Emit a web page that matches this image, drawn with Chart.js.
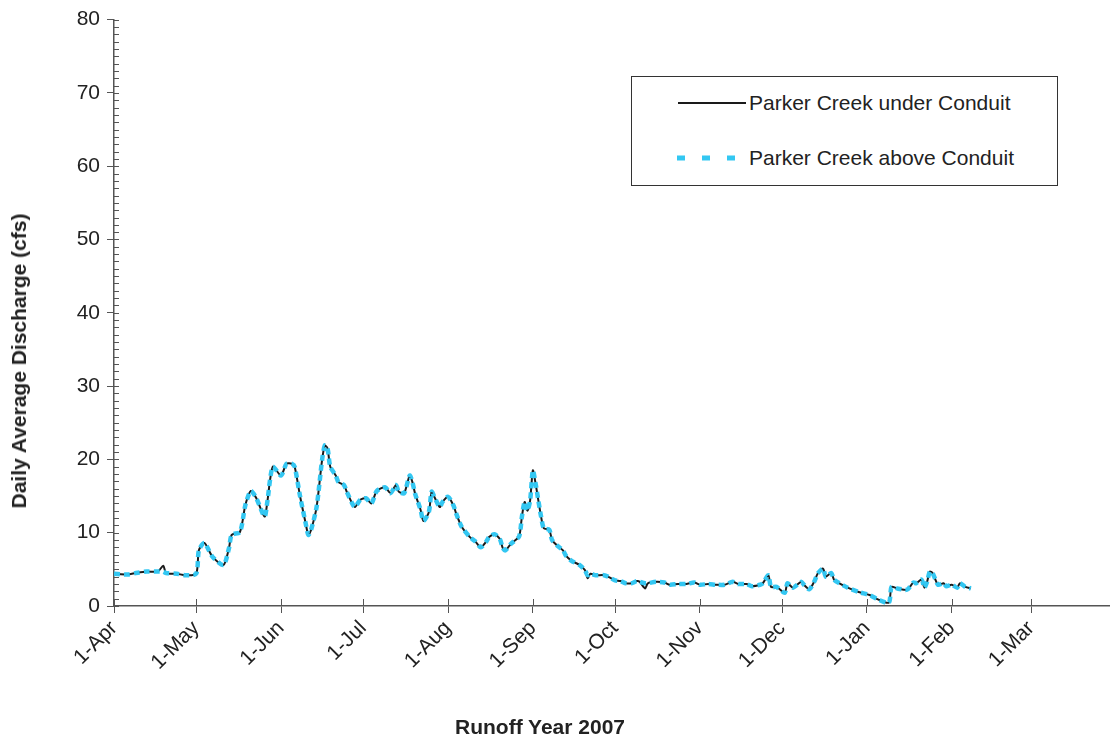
<!DOCTYPE html>
<html>
<head>
<meta charset="utf-8">
<script src="https://cdn.jsdelivr.net/npm/chart.js@4.4.1/dist/chart.umd.min.js"></script>
<style>
html,body{margin:0;padding:0;background:#fff;overflow:hidden;width:1110px;height:740px;}
#wrap{position:relative;width:1110px;height:740px;overflow:hidden;font-family:"Liberation Sans",Arial,sans-serif;color:#222;}
#c{position:absolute;left:0;top:0;}
#ytitle{position:absolute;left:19px;top:361px;transform:translate(-50%,-50%) rotate(-90deg);white-space:nowrap;font-weight:bold;font-size:21px;}
#xtitle{position:absolute;left:540px;top:727px;transform:translate(-50%,-50%);white-space:nowrap;font-weight:bold;font-size:21px;}
#legend{position:absolute;left:631px;top:76px;width:425px;height:108px;border:1px solid #333;background:#fff;font-size:21px;}
#legend svg{position:absolute;left:45px;}
#legend span{position:absolute;left:117px;white-space:nowrap;line-height:24px;}
</style>
</head>
<body>
<div id="wrap">
<canvas id="c" width="1116" height="740"></canvas>
<div id="ytitle">Daily Average Discharge (cfs)</div>
<div id="xtitle">Runoff Year 2007</div>
<div id="legend">
  <svg style="top:16px" width="70" height="20"><line x1="1" y1="10" x2="69" y2="10" stroke="#1a1a1a" stroke-width="2"/></svg>
  <span style="top:14px">Parker Creek under Conduit</span>
  <svg style="top:71px" width="70" height="20"><line x1="0" y1="10" x2="60" y2="10" stroke="#33c7f2" stroke-width="5" stroke-dasharray="8,17"/></svg>
  <span style="top:69px">Parker Creek above Conduit</span>
</div>
</div>
<script>
// Day offsets from 1-Apr-2007
const days = [
  0,5,8,12,16,18,19,23,26,30,
  31,33,36,40,42,43,46,48,50,52,
  55,56,58,61,63,65,66,68,70,71,
  72,74,76,77,78,79,81,82,84,85,
  87,88,90,92,94,96,99,101,103,104,
  106,108,109,110,112,113,115,116,117,119,
  120,122,124,125,127,130,132,134,136,137,
  139,141,142,143,145,146,148,149,150,151,
  152,153,154,155,156,157,159,160,162,164,
  165,167,170,172,173,174,176,179,181,183,
  185,187,189,191,192,194,195,198,201,203,
  206,209,212,214,217,220,223,226,228,231,
  233,236,237,239,240,242,245,246,248,251,
  252,254,256,257,259,260,262,263,265,268,
  272,276,279,283,284,286,289,290,292,293,
  295,296,297,298,299,301,303,304,306,308,
  309,311,313
];
// Parker Creek under Conduit (cfs)
const underConduit = [
  4.4,4.3,4.5,4.7,4.7,5.5,4.5,4.4,4.2,4.4,
  7.6,8.6,6.7,5.6,7.9,9.7,10.1,13.8,15.7,14.7,
  12.2,14.2,19.0,17.8,19.4,19.4,19.0,14.9,11.3,9.7,
  10.4,13.5,19.9,21.9,21.5,19.0,17.8,16.9,16.5,15.6,
  14.0,13.5,14.5,14.7,14.0,15.7,16.2,15.4,16.5,15.6,
  15.4,17.8,16.9,15.3,13.1,11.6,12.8,15.6,14.9,13.5,
  14.2,14.9,13.7,12.6,10.8,9.4,8.8,8.0,8.8,9.4,
  9.8,9.1,7.9,7.6,8.5,8.8,9.5,12.2,14.2,13.0,
  14.4,18.5,16.7,14.4,12.2,10.6,10.4,9.0,8.2,7.6,
  6.9,6.2,5.6,4.9,3.8,4.4,4.2,4.2,3.9,3.5,
  3.4,3.1,3.1,3.4,3.3,2.4,3.1,3.3,3.2,2.9,
  3.0,3.0,3.2,2.9,3.0,2.9,2.9,3.3,3.0,3.0,
  2.7,2.9,3.1,4.2,2.6,2.6,1.8,3.1,2.5,3.3,
  2.9,2.3,3.5,4.4,5.1,4.0,4.5,3.6,3.1,2.5,
  1.9,1.5,0.9,0.45,2.6,2.4,2.2,2.3,3.2,3.1,
  3.6,2.5,3.3,4.7,4.5,2.9,3.1,2.7,2.9,2.5,
  3.1,2.6,2.4
];
// Parker Creek above Conduit (cfs)
const aboveConduit = [
  4.4,4.3,4.5,4.7,4.7,4.7,4.5,4.4,4.2,4.4,
  7.6,8.6,6.7,5.6,7.9,9.7,10.1,13.8,15.7,14.7,
  12.2,14.2,19.0,17.8,19.4,19.4,19.0,14.9,11.3,9.7,
  10.4,13.5,19.9,21.9,21.5,19.0,17.8,16.9,16.5,15.6,
  14.0,13.5,14.5,14.7,14.0,15.7,16.2,15.4,16.5,15.6,
  15.4,17.8,16.9,15.3,13.1,11.6,12.8,15.6,14.9,13.5,
  14.2,14.9,13.7,12.6,10.8,9.4,8.8,8.0,8.8,9.4,
  9.8,9.1,7.9,7.6,8.5,8.8,9.5,12.2,14.2,13.0,
  14.4,18.5,16.7,14.4,12.2,10.6,10.4,9.0,8.2,7.6,
  6.9,6.2,5.6,4.9,4.2,4.4,4.2,4.2,3.9,3.5,
  3.4,3.1,3.1,3.4,3.3,3.1,3.1,3.3,3.2,2.9,
  3.0,3.0,3.2,2.9,3.0,2.9,2.9,3.3,3.0,3.0,
  2.7,2.9,3.1,4.2,2.6,2.6,1.8,3.1,2.5,3.3,
  2.9,2.3,3.5,4.4,5.1,4.0,4.5,3.6,3.1,2.5,
  1.9,1.5,0.9,0.45,2.6,2.4,2.2,2.3,3.2,3.1,
  3.6,2.5,3.3,4.7,4.5,2.9,3.1,2.7,2.9,2.5,
  3.1,2.6,2.4
];
// Month tick positions (days from 1-Apr-2007) and labels
const monthDays = [0,30,61,91,122,153,183,214,244,275,306,335];
const monthLabels = ['1-Apr','1-May','1-Jun','1-Jul','1-Aug','1-Sep','1-Oct','1-Nov','1-Dec','1-Jan','1-Feb','1-Mar'];
const yTicks = [0,10,20,30,40,50,60,70,80];

const toPoints = vals => days.map((d,i)=>({x:d, y:vals[i]}));
const FONT = '"Liberation Sans", Arial, sans-serif';

const extraTicks = {
  id:'extraTicks',
  beforeDatasetsDraw(chart){
    const {ctx, scales:{x,y}, chartArea:a} = chart;
    ctx.save();
    ctx.strokeStyle = '#555';
    ctx.lineWidth = 1;
    ctx.beginPath();
    for (let v = 0; v <= 80; v++) {
      const py = Math.round(y.getPixelForValue(v)) + 0.5;
      ctx.moveTo(a.left, py); ctx.lineTo(a.left + 5, py);
    }
    for (const d of monthDays) {
      const px = Math.round(x.getPixelForValue(d)) + 0.5;
      ctx.moveTo(px, a.bottom); ctx.lineTo(px, a.bottom - 7);
    }
    ctx.stroke();
    ctx.restore();
  }
};

new Chart(document.getElementById('c'), {
  type:'line',
  data:{
    datasets:[
      {label:'Parker Creek above Conduit', data:toPoints(aboveConduit), borderColor:'#33c7f2', borderWidth:4.5,
       borderDash:[6,4], pointRadius:0, tension:0.25, order:0, fill:false},
      {label:'Parker Creek under Conduit', data:toPoints(underConduit), borderColor:'#1a1a1a', borderWidth:2,
       pointRadius:0, tension:0.25, order:1, fill:false}
    ]
  },
  options:{
    responsive:false,
    animation:false,
    layout:{padding:{top:19,left:0,right:0,bottom:0}},
    plugins:{legend:{display:false}, tooltip:{enabled:false}},
    scales:{
      x:{
        type:'linear', min:0, max:366,
        afterBuildTicks:s=>{ s.ticks = monthDays.map(v=>({value:v})); },
        afterFit:s=>{ s.height = 134; },
        ticks:{autoSkip:false, minRotation:45, maxRotation:45, padding:3, color:'#222',
               font:{family:FONT, size:21},
               callback:(v,i)=>monthLabels[i]},
        grid:{drawOnChartArea:false, tickLength:7, color:'#555'},
        border:{color:'#555', width:1.5}
      },
      y:{
        min:0, max:80,
        afterBuildTicks:s=>{ s.ticks = yTicks.map(v=>({value:v})); },
        afterFit:s=>{ s.width = 114; },
        ticks:{padding:7, color:'#222', font:{family:FONT, size:21}},
        grid:{drawOnChartArea:false, tickLength:7, color:'#555'},
        border:{color:'#555', width:1.5}
      }
    }
  },
  plugins:[extraTicks]
});
</script>
</body>
</html>
